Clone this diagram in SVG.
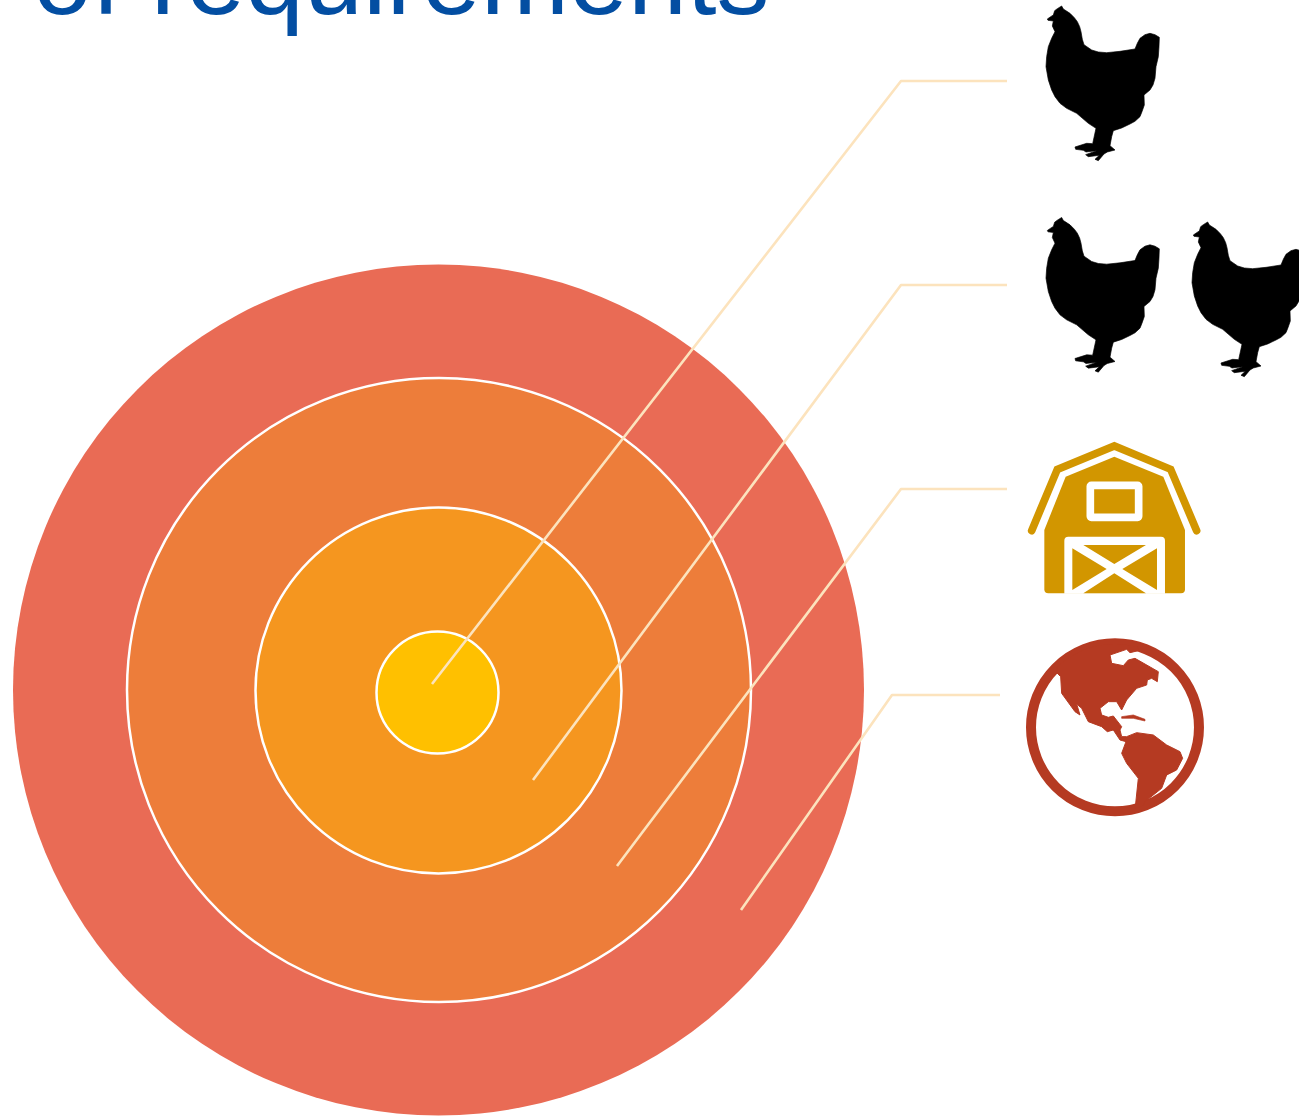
<svg xmlns="http://www.w3.org/2000/svg" width="1299" height="1117" viewBox="0 0 1299 1117">
<style>
.ring{stroke:#fff;stroke-width:2.5}
.lead{fill:none;stroke:#FCE3BD;stroke-width:2.6;stroke-linejoin:round}
.title{font-family:"Liberation Sans",Arial,sans-serif;font-size:106px;fill:#034EA2}
.gold{fill:#D29600}
.rust{fill:#B53A22}
</style>
<defs>
<path id="hen" fill="#000" stroke="#000" stroke-width="2" stroke-linejoin="round" d="M82 57L92 50L100 45L104 32L112 26L125 18L130 27L150 40L163 53L172 65L179 80L183 95L187 118L192 134L215 150L235 156L260 158L300 154L345 147L352 130L360 115L375 104L390 100L405 104L418 112L417 140L415 170L408 200L405 235L399 255L390 270L372 285L373 315L366 335L360 350L345 364L330 372L305 384L280 392L275 410L270 437L285 450L262 456L252 462L235 482L225 478L238 466L205 470L197 464L230 452L198 456L190 451L167 448L165 441L200 430L218 431L228 385L205 370L170 340L140 325L120 310L105 290L95 270L85 240L78 200L80 170L85 140L95 115L105 95L97 78L100 63L84 61Z"/>
</defs>
<g id="title"><text class="title" x="33" y="14">of requirements</text></g>
<g id="circle-outer"><circle cx="438.5" cy="690" r="425.5" fill="#E96B55"/></g>
<g id="circle-second"><circle class="ring" cx="439" cy="690" r="312" fill="#ED7D3A"/></g>
<g id="circle-third"><circle class="ring" cx="438.5" cy="690.5" r="183" fill="#F5961F"/></g>
<g id="circle-inner"><circle class="ring" cx="437.5" cy="692.5" r="61" fill="#FFC000"/></g>
<g id="connectors">
<path class="lead" d="M432 684L901 81H1007"/>
<path class="lead" d="M533 780L901 285H1007"/>
<path class="lead" d="M617 866L901 489H1007"/>
<path class="lead" d="M741 910L892 695H1000"/>
</g>
<g id="one-hen"><use href="#hen" transform="translate(1020 0) scale(.3333)"/></g>
<g id="two-hens">
<use href="#hen" transform="translate(1020 211.5) scale(.3333)"/>
<use href="#hen" transform="translate(1166 216) scale(.3333)"/>
</g>
<g id="barn" transform="translate(1020 430) scale(.3333)">
<path d="M35 302L112 118L283 48L452 118L530 302" fill="none" stroke="#D29600" stroke-width="23" stroke-linecap="round" stroke-linejoin="miter"/>
<path class="gold" d="M283 80L430 140L495 300V478Q495 490 483 490H85Q73 490 73 478V300L137 140Z"/>
<rect x="211" y="166" width="145" height="96" rx="3" fill="none" stroke="#fff" stroke-width="23"/>
<path fill="#fff" d="M133 332Q133 320 145 320H423Q435 320 435 332V491H133Z"/>
<path class="gold" d="M190 345H378L283 402ZM157 355L260 417L157 480ZM411 355L307 417L411 480ZM283 430L378 490H190Z"/>
</g>
<g id="globe" transform="translate(1020 630) scale(.3333)">
<defs><clipPath id="gc"><circle cx="285" cy="292" r="250"/></clipPath></defs>
<circle cx="285" cy="292" r="252" fill="none" stroke="#B53A22" stroke-width="30"/>
<path class="rust" clip-path="url(#gc)" stroke="#B53A22" stroke-width="3" stroke-linejoin="round" d="M110 128L122 140L125 190L165 245L180 255L170 222L185 235L205 275L245 290L262 305L280 300L300 330L318 335L305 370L320 400L355 445L345 540L365 540L375 515L425 475L440 435L470 420L488 385L480 365L440 345L400 315L350 308L320 320L305 320L300 300L305 290L280 258L265 262L245 255L240 235L265 215L290 215L305 240L320 210L350 175L380 165L382 150L395 145L412 155L415 125L345 85L325 90L310 107L275 100L270 75L320 58L330 68L355 62L350 20L200 20L110 100Z"/>
<path class="rust" stroke="#B53A22" stroke-width="2" stroke-linejoin="round" d="M305 260L340 255L375 268L375 273L340 265L305 265Z"/>
</g>
</svg>
